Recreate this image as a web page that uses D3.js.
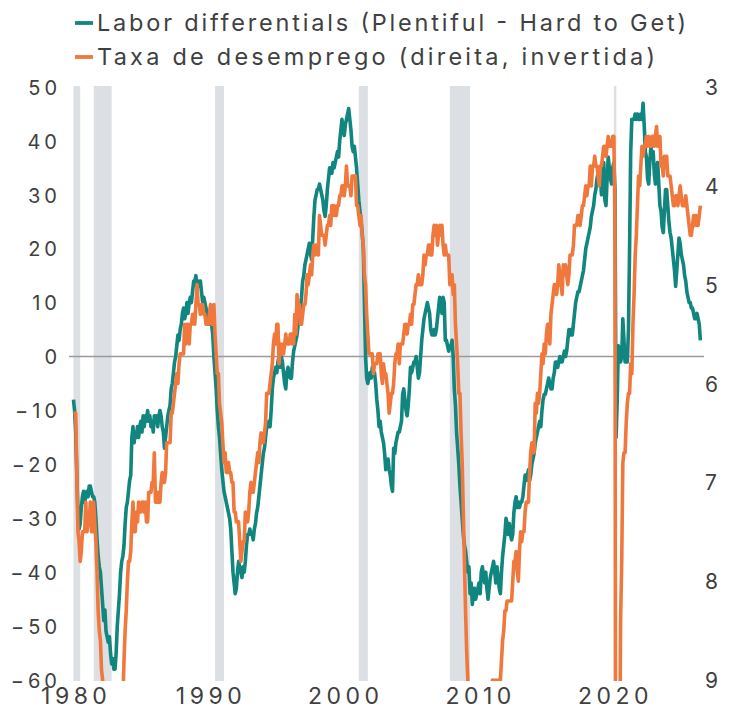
<!DOCTYPE html>
<html><head><meta charset="utf-8">
<script src="https://cdn.jsdelivr.net/npm/d3@7"></script>
<style>body{margin:0;background:#fff}svg{display:block}</style>
</head><body><svg id="c" width="733" height="707"></svg>
<script>
// ---------- DATA ----------
const startYear = 1980; // monthly series start Jan 1980
const laborDiff = [
-8,-10,-14,-22,-29,-32,-31,-28,-26,-25,-27,-26,
-25,-26,-24,-24,-25,-26,-26,-27,-30,-34,-37,-39,
-40,-43,-46,-49,-47,-51,-52,-53,-52,-55,-57,-56,
-58,-58,-55,-50,-47,-44,-40,-38,-37,-35,-31,-28,
-27,-25,-23,-22,-15,-13,-16,-14,-15,-13,-15,-13,
-12,-14,-11,-13,-11,-12,-10,-12,-11,-13,-12,-14,
-11,-12,-11,-13,-11,-10,-11,-13,-14,-17,-15,-13,
-11,-10,-9,-6,-5,-3,-1,0,2,4,3,5,
6,8,9,7,8,10,8,10,11,10,12,14,
14,15,13,14,13,14,12,10,11,10,9,8,
7,6,6,6,4,0,-3,-6,-10,-13,-15,-18,
-21,-23,-25,-26,-27,-28,-29,-30,-32,-36,-40,-42,
-44,-43,-40,-38,-39,-40,-41,-39,-40,-38,-35,-33,
-33,-32,-33,-33,-34,-32,-31,-29,-28,-26,-24,-22,
-20,-18,-17,-15,-13,-13,-12,-13,-10,-6,-4,-3,
-2,-3,-1,0,-2,0,-1,-3,-5,-6,-3,-2,
-3,-4,-4,-1,1,2,3,4,6,7,9,11,
14,15,17,18,19,20,21,19,18,22,26,29,
30,31,31,32,31,30,29,27,26,28,31,33,
35,35,34,36,35,36,37,38,37,40,42,44,
42,41,43,44,45,46,44,42,39,38,39,37,
35,32,29,27,25,23,20,10,0,-4,-5,-4,
-3,-4,-2,-3,-3,-5,-8,-10,-13,-12,-14,-15,
-16,-18,-21,-20,-19,-21,-22,-24,-25,-17,-18,-16,
-15,-14,-14,-13,-12,-7,-6,-8,-10,-11,-9,-6,
-2,-3,-2,-1,-1,0,-2,-4,-3,0,3,5,
7,8,9,10,9,8,5,4,4,5,4,5,
7,9,11,10,8,11,10,3,3,2,1,2,
2,3,0,-6,-9,-14,-17,-20,-24,-27,-30,-33,
-35,-36,-38,-40,-39,-44,-42,-46,-44,-43,-45,-44,
-43,-42,-44,-40,-39,-41,-42,-40,-43,-45,-43,-41,
-40,-39,-38,-40,-42,-39,-41,-43,-44,-40,-37,-35,
-33,-30,-31,-33,-31,-33,-34,-33,-29,-27,-26,-28,
-27,-28,-27,-27,-26,-24,-22,-23,-22,-21,-23,-22,
-20,-19,-18,-16,-15,-14,-13,-12,-13,-10,-8,-7,
-7,-6,-5,-4,-5,-6,-6,-4,-3,-1,-1,-2,
-1,0,-1,-1,0,1,0,1,3,5,4,5,
4,6,8,10,11,12,12,13,14,15,16,18,
20,21,22,23,24,26,27,28,30,31,33,34,
35,33,30,34,36,29,28,33,37,35,33,32,
35,36,31,-15,-8,2,1,-1,0,7,3,-1,
0,-1,5,20,38,44,44,44,45,44,45,44,
44,45,44,47,43,38,37,33,32,36,39,37,
38,34,32,35,36,32,28,27,24,23,27,31,
31,28,25,23,22,20,18,16,13,16,19,22,
21,19,18,17,15,14,12,11,10,10,9,9,
8,7,7,8,7,6,3
];
const unemployment = [
6.3,6.3,6.3,6.9,7.5,7.6,7.8,7.7,7.5,7.5,7.5,7.2,
7.5,7.4,7.4,7.2,7.5,7.5,7.2,7.4,7.6,7.9,8.3,8.5,
8.6,8.9,9.0,9.3,9.4,9.6,9.8,9.8,10.1,10.4,10.8,10.8,
10.4,10.4,10.3,10.2,10.1,10.1,9.4,9.5,9.2,8.8,8.5,8.3,
8.0,7.8,7.8,7.7,7.4,7.2,7.5,7.5,7.3,7.4,7.2,7.3,
7.3,7.2,7.2,7.3,7.2,7.4,7.4,7.1,7.1,7.1,7.0,7.0,
6.7,7.2,7.2,7.1,7.2,7.2,7.0,6.9,7.0,7.0,6.9,6.6,
6.6,6.6,6.6,6.3,6.3,6.2,6.1,6.0,5.9,6.0,5.8,5.7,
5.7,5.7,5.7,5.4,5.6,5.4,5.4,5.6,5.4,5.4,5.3,5.3,
5.4,5.2,5.0,5.2,5.2,5.3,5.2,5.2,5.3,5.3,5.4,5.4,
5.4,5.3,5.2,5.4,5.4,5.2,5.5,5.7,5.9,5.9,6.2,6.3,
6.4,6.6,6.8,6.7,6.9,6.9,6.8,6.9,6.9,7.0,7.0,7.3,
7.3,7.4,7.4,7.4,7.6,7.8,7.7,7.6,7.6,7.3,7.4,7.4,
7.3,7.1,7.0,7.1,7.1,7.0,6.9,6.8,6.7,6.8,6.6,6.5,
6.6,6.6,6.5,6.4,6.1,6.1,6.1,6.0,5.9,5.8,5.6,5.5,
5.6,5.4,5.4,5.8,5.6,5.6,5.7,5.7,5.6,5.5,5.6,5.6,
5.6,5.5,5.5,5.6,5.6,5.3,5.5,5.1,5.2,5.2,5.4,5.4,
5.3,5.2,5.2,5.1,4.9,5.0,4.9,4.8,4.9,4.7,4.6,4.7,
4.6,4.6,4.7,4.3,4.4,4.5,4.5,4.5,4.6,4.5,4.4,4.4,
4.3,4.4,4.2,4.3,4.2,4.3,4.3,4.2,4.2,4.1,4.1,4.0,
4.0,4.1,4.0,3.8,4.0,4.0,4.0,4.1,3.9,3.9,3.9,3.9,
4.2,4.2,4.3,4.4,4.3,4.5,4.6,4.9,5.0,5.3,5.5,5.7,
5.7,5.7,5.7,5.9,5.8,5.8,5.8,5.7,5.7,5.7,5.9,6.0,
5.8,5.9,5.9,6.0,6.1,6.3,6.2,6.1,6.1,6.0,5.8,5.7,
5.7,5.6,5.8,5.6,5.6,5.6,5.5,5.4,5.4,5.5,5.4,5.4,
5.3,5.4,5.2,5.2,5.1,5.0,5.0,4.9,5.0,5.0,5.0,4.9,
4.7,4.8,4.7,4.7,4.6,4.6,4.7,4.7,4.5,4.4,4.5,4.4,
4.6,4.5,4.4,4.5,4.4,4.6,4.7,4.6,4.7,4.7,4.7,5.0,
5.0,4.9,5.1,5.0,5.4,5.6,5.8,6.1,6.1,6.5,6.8,7.3,
7.8,8.3,8.7,9.0,9.4,9.5,9.5,9.6,9.8,10.0,9.9,9.9,
9.8,9.8,9.9,9.9,9.6,9.4,9.4,9.5,9.5,9.4,9.8,9.3,
9.1,9.0,9.0,9.1,9.0,9.1,9.0,9.0,9.0,8.8,8.6,8.5,
8.3,8.3,8.2,8.2,8.2,8.2,8.2,8.0,7.8,7.8,7.7,7.9,
8.0,7.7,7.5,7.6,7.5,7.5,7.3,7.2,7.2,7.2,6.9,6.7,
6.6,6.7,6.7,6.2,6.3,6.1,6.2,6.1,5.9,5.7,5.8,5.6,
5.7,5.5,5.4,5.4,5.6,5.3,5.2,5.1,5.0,5.0,5.1,5.0,
4.8,4.9,5.0,5.1,4.8,4.9,4.8,4.9,5.0,4.9,4.7,4.7,
4.7,4.6,4.4,4.4,4.4,4.3,4.3,4.4,4.3,4.2,4.2,4.1,
4.0,4.1,4.0,4.0,3.8,4.0,3.8,3.8,3.7,3.8,3.8,3.9,
4.0,3.8,3.8,3.7,3.6,3.6,3.7,3.6,3.5,3.6,3.6,3.6,
3.5,3.5,4.4,14.8,13.2,11.0,10.2,8.4,7.8,6.8,6.7,6.7,
6.4,6.2,6.1,6.1,5.8,5.9,5.4,5.1,4.7,4.5,4.2,3.9,
4.0,3.8,3.6,3.7,3.6,3.6,3.5,3.6,3.5,3.6,3.6,3.5,
3.5,3.6,3.5,3.4,3.6,3.6,3.5,3.8,3.8,3.9,3.7,3.8,
3.7,3.9,3.9,3.9,4.0,4.1,4.2,4.2,4.1,4.1,4.2,4.1,
4.0,4.1,4.2,4.2,4.2,4.1,4.2,4.3,4.4,4.5,4.5,4.4,
4.3,4.4,4.3,4.4,4.4,4.3,4.2
];
const recessionStarts = ["1980-01","1981-07","1990-07","2001-03","2007-12","2020-02"];
const recessionEnds   = ["1980-07","1982-11","1991-03","2001-11","2009-06","2020-04"];
const leftTicks  = [50,40,30,20,10,0,-10,-20,-30,-40,-50,-60];
const rightTicks = [3,4,5,6,7,8,9];
const xTicks     = [1980,1990,2000,2010,2020];
const seriesNames = ["Labor differentials (Plentiful - Hard to Get)","Taxa de desemprego (direita, invertida)"];
const seriesColors = ["#10867f","#f0783c"];

// ---------- CHART ----------
const svg = d3.select("#c");
const P = {left:69, right:704, top:86, bottom:681};
const FONT = "Inter, 'Noto Sans', sans-serif";
const x  = d3.scaleLinear().domain([1979.67, 2026.77]).range([P.left, P.right]);
const yL = d3.scaleLinear().domain([-60, 50]).range([680, 87]);
const yR = d3.scaleLinear().domain([9, 3]).range([680, 87]);
const tOf = i => startYear + i/12;
const ym = s => { const [y,m] = s.split("-").map(Number); return y + (m-1)/12; };

svg.append("defs").append("clipPath").attr("id","clip")
  .append("rect").attr("x",P.left).attr("y",P.top).attr("width",P.right-P.left).attr("height",P.bottom-P.top);

// recession bands
svg.append("g").selectAll("rect").data(recessionStarts).join("rect")
  .attr("x", (d)=>x(ym(d)))
  .attr("width", (d,i)=>Math.max(2.5, x(ym(recessionEnds[i]))-x(ym(d))))
  .attr("y", P.top).attr("height", P.bottom-P.top)
  .attr("fill", "#dcdfe3");

// zero line
svg.append("line").attr("x1",P.left).attr("x2",P.right)
  .attr("y1",yL(0)).attr("y2",yL(0)).attr("stroke","#9a9a9a").attr("stroke-width",1.5);

const g = svg.append("g").attr("clip-path","url(#clip)");
const lineL = d3.line().x((d,i)=>x(tOf(i))).y(d=>yL(d));
const lineR = d3.line().x((d,i)=>x(tOf(i))).y(d=>yR(d));
g.append("path").datum(laborDiff).attr("d",lineL).attr("fill","none")
  .attr("stroke",seriesColors[0]).attr("stroke-width",3.6).attr("stroke-linejoin","round");
g.append("path").datum(unemployment).attr("d",lineR).attr("fill","none")
  .attr("stroke",seriesColors[1]).attr("stroke-width",3.6).attr("stroke-linejoin","round");

// axes
const LS_Y = 4, LS_X = 4.5;
const axL = d3.axisLeft(yL).tickValues(leftTicks).tickSize(0).tickPadding(0);
const gL = svg.append("g").attr("transform",`translate(${57+LS_Y},0)`).call(axL);
const axR = d3.axisRight(yR).tickValues(rightTicks).tickFormat(d3.format("d")).tickSize(0).tickPadding(0);
const gR = svg.append("g").attr("transform","translate(705,0)").call(axR);
const axX = d3.axisBottom(x).tickValues(xTicks).tickFormat(d3.format("d")).tickSize(0).tickPadding(0);
const gX = svg.append("g").attr("transform","translate(0,687)").call(axX);
[gL,gR,gX].forEach(a=>{
  a.select(".domain").remove();
  a.selectAll("text").attr("fill","#404040").style("font-family",FONT);
});
gL.selectAll("text").style("font-size","20px").style("letter-spacing",LS_Y+"px").attr("dy","0.36em");
gR.selectAll("text").style("font-size","21px").attr("dy","0.36em");
gX.selectAll("text").style("font-size","23px").style("letter-spacing",LS_X+"px")
  .attr("dx",(LS_X/2)+"px").attr("dy","0.72em");

// legend
const legendWidths = [589, 558];
const leg = svg.append("g");
seriesNames.forEach((n,i)=>{
  const yy = 23 + i*34;
  leg.append("line").attr("x1",75).attr("x2",93).attr("y1",yy).attr("y2",yy)
    .attr("stroke",seriesColors[i]).attr("stroke-width",3.8);
  leg.append("text").attr("x",97).attr("y",yy).attr("dy","0.36em")
    .text(n).attr("fill","#404040").style("font-family",FONT).style("font-size","23.5px")
    .attr("textLength",legendWidths[i]).attr("lengthAdjust","spacing");
});
</script></body></html>
